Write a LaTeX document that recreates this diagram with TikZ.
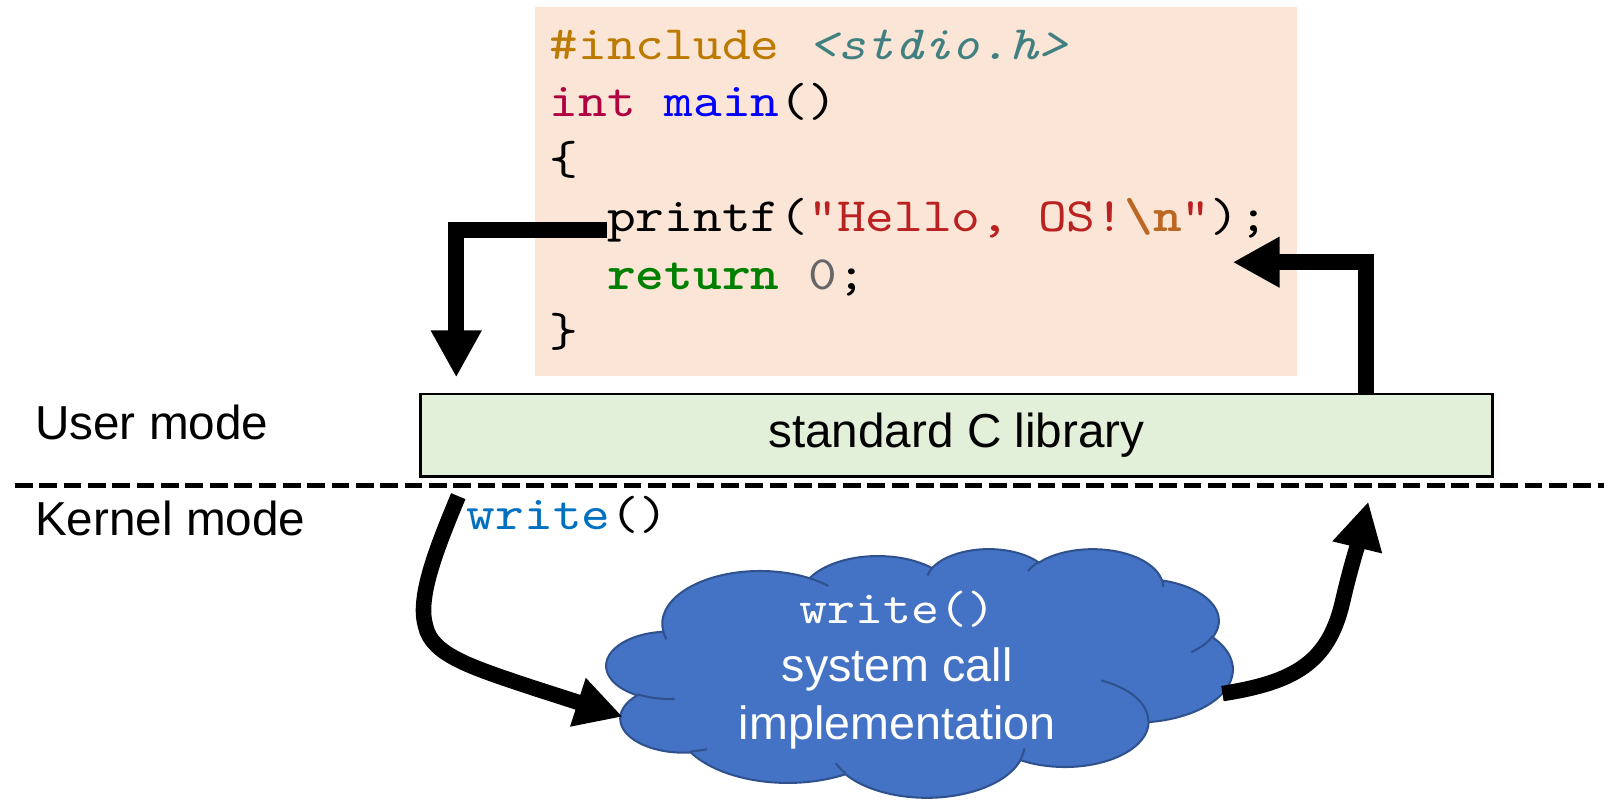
\documentclass[tikz,border=0pt]{standalone}
\usepackage{fontspec}
\setmainfont{Liberation Sans}
\setmonofont{lmmono10-regular}[Extension=.otf, FakeStretch=1.143, BoldFont=lmmonolt10-bold, ItalicFont=lmmono10-italic, BoldItalicFont=lmmonolt10-boldoblique]
\usetikzlibrary{arrows.meta}
\definecolor{codebg}{RGB}{251,229,214}
\definecolor{libbg}{RGB}{226,240,217}
\definecolor{cloudfill}{HTML}{4472C4}
\definecolor{cloudedge}{HTML}{2F528F}
\definecolor{cpre}{HTML}{BC7A00}
\definecolor{cfile}{HTML}{408080}
\definecolor{ctype}{HTML}{B00040}
\definecolor{cfunc}{HTML}{0000FF}
\definecolor{cstr}{HTML}{BA2121}
\definecolor{cesc}{HTML}{BB6622}
\definecolor{ckw}{HTML}{008000}
\definecolor{cnum}{HTML}{666666}
\definecolor{wblue}{HTML}{0070C0}
\begin{document}
\begin{tikzpicture}[x=0.5pt,y=-0.5pt,
  codeline/.style={anchor=base west, inner sep=0pt, font=\ttfamily\fontsize{23.4pt}{28pt}\selectfont},
  modelabel/.style={anchor=base west, inner sep=0pt, font=\fontsize{23.3pt}{28pt}\selectfont},
  bigarrow/.style={line width=7.6pt, -{Triangle[length=23pt,width=23.3pt]}},
  cloudline/.style={draw=cloudedge, line width=1pt},
]
\useasboundingbox (0,0) rectangle (1568,783);

% code box
\node[fill=codebg, inner sep=0pt, minimum width=372.5pt, minimum height=180.25pt, anchor=north west] (codebox) at (522.6,6.5) {};
\node[codeline] (l1) at (537,58) {{\color{cpre}\#include} {\color{cfile}\itshape <stdio.h>}};
\node[codeline] (l2) at (537,114.2) {{\color{ctype}int} {\color{cfunc}main}()};
\node[codeline] (l3) at (537,170.4) {\{};
\node[codeline] (l4) at (593.2,226.6) {printf({\color{cstr}"Hello, OS!{\bfseries\color{cesc}\textbackslash n}"});};
\node[codeline] (l5) at (593.2,282.8) {{\bfseries\color{ckw}return} {\color{cnum}0};};
\node[codeline] (l6) at (537,339) {\}};

% standard C library
\node[draw, line width=1.2pt, fill=libbg, minimum width=523.8pt, minimum height=40.2pt, inner sep=0pt, anchor=north west, font=\fontsize{23.3pt}{28pt}\selectfont] (lib) at (410,384) {standard C library};

% mode labels and separator
\node[modelabel] (user) at (34,429.5) {User mode};
\node[modelabel] (kernel) at (34,523) {Kernel mode};
\coordinate (dl) at (14.7,474.5);
\coordinate (dr) at (1568,474.5);
\draw[line width=2.5pt, dash pattern=on 8.65pt off 3.25pt] (dl) -- (dr);

\node[codeline] (wr) at (456,518) {{\color{wblue}write}()};

% cloud
\begin{scope}[shift={(593,536)}, xscale=1.41667, yscale=0.5625]
\filldraw[fill=cloudfill, cloudline] (39,143.70)
  \foreach \rx/\ry/\sa/\sw in {67.53/91.90/-190.48748/123.78053,
    53.33/72.67/-144.10238/89.94523,
    43.65/59.45/-145.80792/99.72302,
    48.57/65.95/-130.98607/117.24173,
    53.33/72.73/-78.70888/109.02692,
    67.75/92.20/-46.26725/130.269,
    57.85/78.67/0.62502/114.03333,
    67.52/92.15/22.4516/115.17255,
    77.20/105.43/66.24263/75.71102,
    43.60/59.18/-274.94208/146.73557,
    43.45/59.45/-246.8285/152.51885}
  { arc[x radius=\rx, y radius=\ry, start angle={atan2(\rx*sin(\sa),\ry*cos(\sa))}, delta angle={\sw+mod(atan2(\rx*sin(\sa+\sw),\ry*cos(\sa+\sw))-atan2(\rx*sin(\sa),\ry*cos(\sa))-\sw+900,360)-180}] } -- cycle;
\draw[cloudline]
  \foreach \px/\py/\rx/\ry/\sa/\sw in {46.93/261.77/43.45/59.45/86.742/26.4295,
    69.28/348.99/43.60/59.18/73.61047/11.44747,
    164.78/390.90/67.52/92.15/137.62415/14.0811,
    288.27/347.51/67.52/92.15/6.45327/15.99835,
    341.29/229.54/57.85/78.67/-70.29235/70.91737,
    417.98/153.54/53.33/72.73/30.31803/27.7515,
    383.24/54.26/48.57/65.95/-13.74433/14.85762,
    290.78/39.52/48.57/65.95/-149.18145/18.18753,
    221.41/47.20/43.65/59.45/-163.49427/17.69422,
    140.00/51.92/67.53/91.90/-66.70695/12.31935,
    41.27/157.89/67.53/91.90/157.65435/11.85817}
  { (\px,\py) arc[x radius=\rx, y radius=\ry, start angle={atan2(\rx*sin(\sa),\ry*cos(\sa))}, delta angle={\sw+mod(atan2(\rx*sin(\sa+\sw),\ry*cos(\sa+\sw))-atan2(\rx*sin(\sa),\ry*cos(\sa))-\sw+900,360)-180}] };
\end{scope}
\node[align=center, text=white, inner sep=0pt, font=\fontsize{22.8pt}{28.5pt}\selectfont] (cloud) at (877,655) {{\ttfamily write()}\\system call\\implementation};

% arrows
\coordinate (tipL) at (446,368.9);
\coordinate (tipR) at (1205,256.3);
\draw[bigarrow] ([yshift=1pt]l4.base west) -| (tipL);
\draw[bigarrow] ([xshift=462.6pt]lib.north west) |- (tipR);
\coordinate (k1) at (448,485);
\coordinate (c1) at (608.7,700.6);
\coordinate (c2) at (1195,678);
\coordinate (k2) at (1337.6,490.4);
\draw[bigarrow] (k1) .. controls (425,540) and (408,585) .. (416,612) .. controls (422,640) and (460,652) .. (520,672) -- (c1);
\draw[bigarrow] (c2) .. controls (1265,667) and (1298,648) .. (1312,590) .. controls (1320,555) and (1328,530) .. (k2);
\end{tikzpicture}
\end{document}
